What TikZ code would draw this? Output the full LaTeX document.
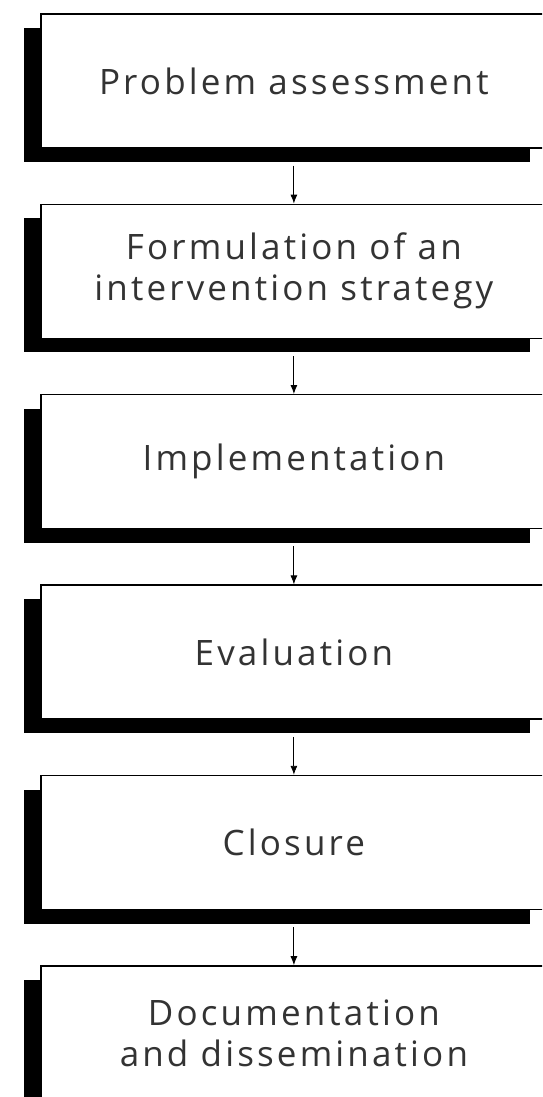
\documentclass[tikz,border=0pt]{standalone}
\usepackage{fontspec}
\newfontfamily\boxfont{Open Sans}[LetterSpace=9]
\usetikzlibrary{matrix, arrows.meta, shadows}

\tikzset{
  stage/.style = {draw, line width=1.4pt, fill=white, minimum width=506pt, minimum height=134pt, align=center, inner sep=0pt, text=black!80, font=\boxfont\fontsize{35}{41}\selectfont, drop shadow={shadow xshift=-17pt, shadow yshift=-14pt, fill=black, opacity=1}},
  flow/.style = {-{Latex[length=9pt, width=7pt]}, line width=0.9pt}
}

\begin{document}
\begin{tikzpicture}[x=1pt, y=1pt]
\useasboundingbox (0,0) rectangle (542,-1097);
\clip (0,0) rectangle (542,-1097);
\matrix (m) [row sep=55pt, inner sep=0pt, anchor=north west] at (40,-13) {
\node[stage](assess){Problem assessment}; \\
\node[stage](formul){Formulation of an\\intervention strategy}; \\
\node[stage](implem){Implementation}; \\
\node[stage](evalu){Evaluation}; \\
\node[stage](closure){Closure}; \\
\node[stage](docum){Documentation\\and dissemination}; \\
};
\draw[flow] ([yshift=-17pt]assess.south) -- (formul.north);
\draw[flow] ([yshift=-17pt]formul.south) -- (implem.north);
\draw[flow] ([yshift=-17pt]implem.south) -- (evalu.north);
\draw[flow] ([yshift=-17pt]evalu.south) -- (closure.north);
\draw[flow] ([yshift=-17pt]closure.south) -- (docum.north);
\end{tikzpicture}
\end{document}
